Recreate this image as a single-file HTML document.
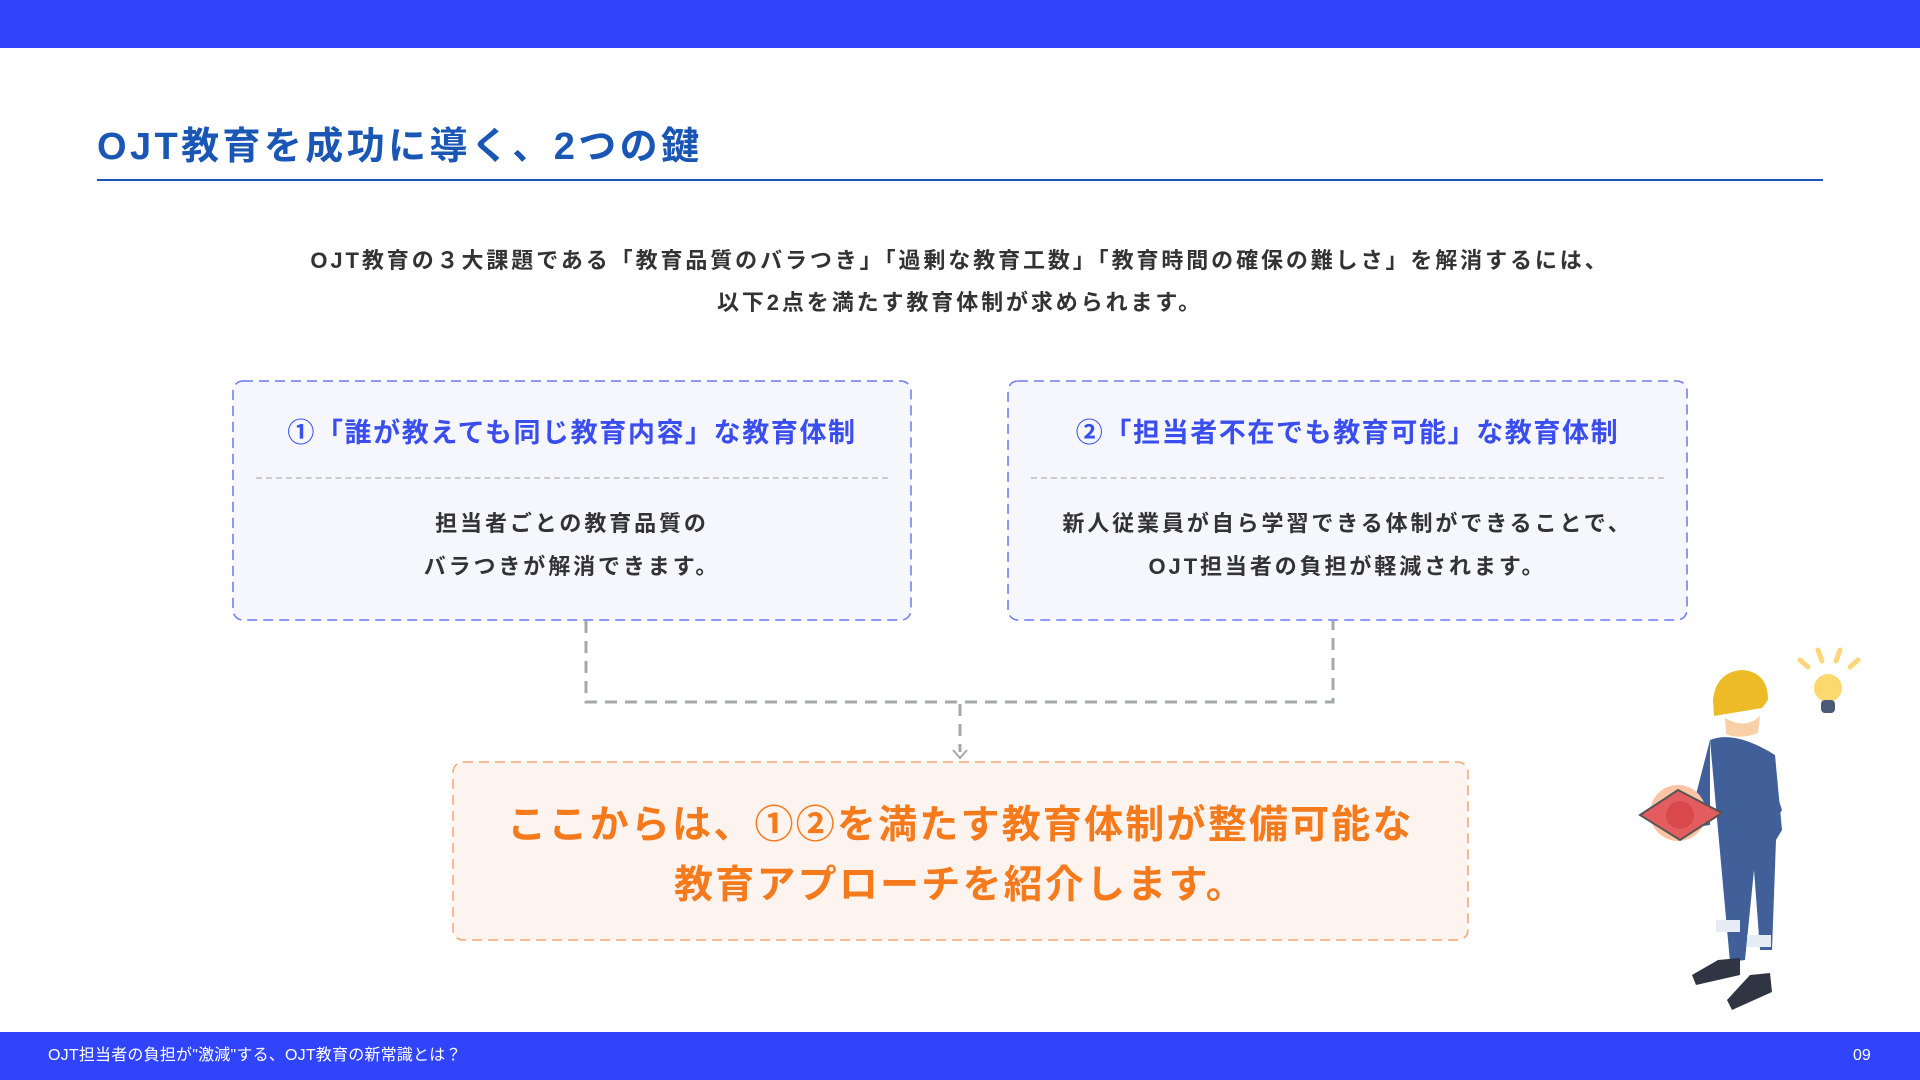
<!DOCTYPE html>
<html><head><meta charset="utf-8"><style>
*{margin:0;padding:0;box-sizing:border-box}
body{width:1920px;height:1080px;position:relative;background:#fff;font-family:"Liberation Sans","Noto Sans CJK JP",sans-serif;overflow:hidden}
.a{position:absolute}
.c{text-align:center;white-space:nowrap}
</style></head><body>
<div class="a" style="left:0;top:0;width:1920px;height:48px;background:#3045fb"></div>
<div class="a" style="left:97px;top:121px;font-size:38px;font-weight:700;color:#1a56b4;line-height:52px;letter-spacing:3.4px;white-space:nowrap">OJT教育を成功に導く、2つの鍵</div>
<div class="a" style="left:97px;top:179px;width:1726px;height:2px;background:#1a56b4"></div>
<div class="a c" style="left:0;width:1920px;top:240px;font-size:22px;font-weight:700;color:#333;line-height:42px;letter-spacing:2.9px">OJT教育の３大課題である「教育品質のバラつき」「過剰な教育工数」「教育時間の確保の難しさ」を解消するには、<br>以下2点を満たす教育体制が求められます。</div>

<svg class="a" style="left:0;top:0" width="1920" height="1080">
<g stroke-width="1.5" stroke-dasharray="10,6">
<rect x="233" y="381" width="678" height="239" rx="10" fill="#f6f7fd" stroke="#6b78f2"/>
<rect x="1008" y="381" width="679" height="239" rx="10" fill="#f6f7fd" stroke="#6b78f2"/>
<rect x="453" y="762" width="1015" height="178" rx="10" fill="#fdf3ef" stroke="#f4a674"/>
</g>
<g fill="none" stroke="#a5a7ad" stroke-width="3" stroke-dasharray="12,8">
<path d="M586 621 V702 H1333 V621"/>
<path d="M960 704 V752"/>
</g>
<path d="M953 750 L960 758 L967 750" fill="none" stroke="#a5a7ad" stroke-width="2"/>
</svg>

<div class="a c" style="left:233px;width:678px;top:415px;font-size:27px;font-weight:700;color:#3a4ef0;line-height:36px;letter-spacing:1.6px">①「誰が教えても同じ教育内容」な教育体制</div>
<div class="a" style="left:256px;top:477px;width:632px;border-top:2px dashed #ccc"></div>
<div class="a c" style="left:233px;width:678px;top:502px;font-size:22px;font-weight:700;color:#333;line-height:43px;letter-spacing:2.9px">担当者ごとの教育品質の<br>バラつきが解消できます。</div>

<div class="a c" style="left:1008px;width:679px;top:415px;font-size:27px;font-weight:700;color:#3a4ef0;line-height:36px;letter-spacing:1.6px">②「担当者不在でも教育可能」な教育体制</div>
<div class="a" style="left:1031px;top:477px;width:633px;border-top:2px dashed #ccc"></div>
<div class="a c" style="left:1008px;width:679px;top:502px;font-size:22px;font-weight:700;color:#333;line-height:43px;letter-spacing:2.9px">新人従業員が自ら学習できる体制ができることで、<br>OJT担当者の負担が軽減されます。</div>

<div class="a c" style="left:453px;width:1015px;top:796px;font-size:39px;font-weight:700;color:#f47a1c;line-height:60px;letter-spacing:2.2px">ここからは、①②を満たす教育体制が整備可能な<br>教育アプローチを紹介します。</div>

<svg class="a" style="left:1600px;top:630px" width="320" height="400" viewBox="0 0 320 400">
<g stroke="#fcd67a" stroke-width="5" stroke-linecap="round">
<path d="M200 30 L208 37"/><path d="M218 20 L222 31"/><path d="M240 20 L236 31"/><path d="M258 30 L250 37"/>
</g>
<circle cx="228" cy="58" r="14" fill="#fdd86f"/><rect x="221" y="70" width="14" height="13" rx="4" fill="#4c5a78"/>
<path d="M113 70 Q116 42 142 40 Q168 42 168 70 L162 78 L114 86 Z" fill="#ecbb26"/>
<path d="M125 88 Q145 100 160 86 L158 103 Q140 110 126 104 Z" fill="#f9cfa7"/>
<path d="M110 110 Q135 100 175 125 L182 200 L176 210 L172 320 L160 320 L154 240 L145 330 L130 332 L118 200 Z" fill="#41609a"/>
<path d="M110 110 L92 180 L70 185 L75 200 L110 195 Z" fill="#41609a"/>
<path d="M164 125 L182 180 L170 200 L150 198 L140 190 Z" fill="#41609a"/>
<rect x="116" y="290" width="24" height="12" fill="#e6ebf5"/><rect x="147" y="305" width="24" height="12" fill="#e6ebf5"/>
<path d="M118 330 L140 328 L140 345 L96 355 L92 345 Z" fill="#2f3542"/>
<path d="M150 345 L170 343 L172 362 L132 380 L127 370 Z" fill="#2f3542"/>
<circle cx="78" cy="183" r="28" fill="#fbc5a5"/>
<path d="M40 185 L78 160 L122 183 L80 210 Z" fill="#e35c5f" stroke="#555" stroke-width="2"/>
<circle cx="80" cy="185" r="14" fill="#d8484d"/>
</svg>

<div class="a" style="left:0;top:1032px;width:1920px;height:48px;background:#3045fb"></div>
<div class="a" style="left:48px;top:1044px;font-size:16px;color:#fff;line-height:24px;white-space:nowrap;letter-spacing:0.2px">OJT担当者の負担が"激減"する、OJT教育の新常識とは？</div>
<div class="a" style="left:1853px;top:1044px;font-size:16px;color:#fff;line-height:24px">09</div>
</body></html>
